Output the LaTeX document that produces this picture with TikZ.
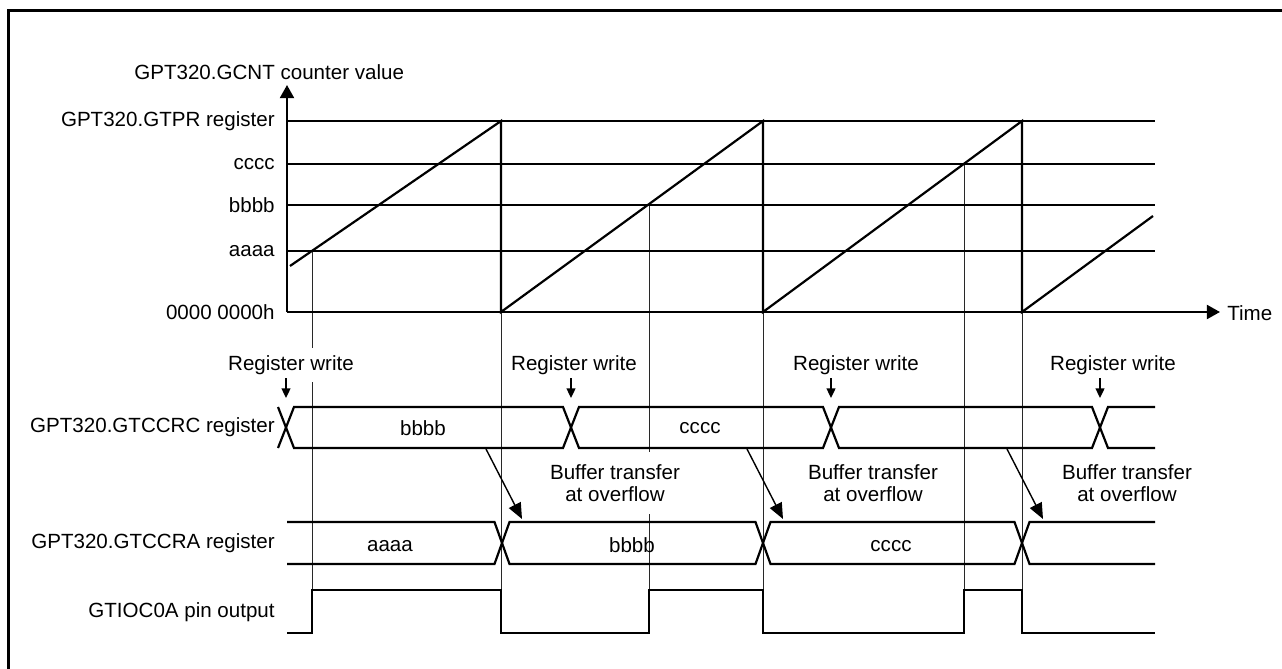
\documentclass[tikz,border=0pt]{standalone}
\usepackage{fontspec}
\setmainfont{Liberation Sans}
\usepackage{xcolor}
\definecolor{gline}{RGB}{40,40,40}
\usetikzlibrary{arrows.meta,positioning,calc}

\begin{document}
\begin{tikzpicture}[x=0.02cm,y=-0.02cm,font=\fontsize{11.7}{12.5}\selectfont,
  sig/.style={line width=1.25pt},
  guide/.style={line width=0.55pt,gline},
  lbl/.style={inner sep=0pt,anchor=east},
  wrlbl/.style={fill=white,inner xsep=3pt,inner ysep=4pt},
  btlbl/.style={fill=white,align=center,inner xsep=2pt,inner ysep=7pt},
  axisarrow/.style={sig,-{Triangle[length=7.5pt,width=8pt]}},
  wrarrow/.style={line width=1.1pt,-{Triangle[length=5.5pt,width=5pt]}},
  btarrow/.style={line width=0.8pt,-{Triangle[length=9pt,width=7.5pt]}}]
  \useasboundingbox (0,0) rectangle (1282,669);
  \draw[line width=1.7pt] (8.5,669) -- (8.5,10.5) -- (1282,10.5);
  \foreach \x/\y in {312/251,501/312,649/205,763/312,964/164,1022/312}
    \draw[guide] (\x,\y) -- (\x,590);
  \node[anchor=west,inner sep=0pt] (cntlbl) at (134,72) {GPT320.GCNT counter value};
  \foreach \y/\t/\n in {121/GPT320.GTPR register/gtpr,164/cccc/lvc,205/bbbb/lvb,251/aaaa/lva}{
    \node[lbl] (\n) at (275,\y) {\t};
    \draw[sig] (287,\y) -- (1155,\y);
  }
  \node[lbl] (zero) at (275,312) {0000 0000h};
  \node[anchor=west,inner sep=0pt] (timelbl) at (1227,313) {Time};
  \draw[axisarrow] (287,312) -- (287,85);
  \draw[axisarrow] (287,312) -- (1220,312);
  \draw[sig] (290,266) -- (501,121) -- (501,312) -- (763,121) -- (763,312) -- (1022,121) -- (1022,312) -- (1153,216);
  \node[lbl] (crclbl) at (275,427) {GPT320.GTCCRC register};
  \node[lbl] (cralbl) at (275,543) {GPT320.GTCCRA register};
  \node[lbl] (outlbl) at (275,612) {GTIOC0A pin output};
  \foreach \n/\x/\c in {1/291/286,2/574/571,3/856/831,4/1113/1100}{
    \node[wrlbl] (rw\n) at (\x,365) {Register write};
    \coordinate (wt\n) at (\c,398);
    \draw[wrarrow] ($(wt\n)+(0,-20)$) -- (wt\n);
  }
  \draw[sig] (278,448) -- (294,407) -- (563,407) -- (579,448) -- (823,448) -- (839,407) -- (1092,407) -- (1108,448) -- (1155,448);
  \draw[sig] (278,407) -- (294,448) -- (563,448) -- (579,407) -- (823,407) -- (839,448) -- (1092,448) -- (1108,407) -- (1155,407);
  \node (crcb) at (423,428) {bbbb};
  \node (crcc) at (700,428) {cccc};
  \draw[sig] (287,522) -- (494.5,522) -- (509.5,564) -- (755.5,564) -- (770.5,522) -- (1014.5,522) -- (1029.5,564) -- (1155,564);
  \draw[sig] (287,564) -- (494.5,564) -- (509.5,522) -- (755.5,522) -- (770.5,564) -- (1014.5,564) -- (1029.5,522) -- (1155,522);
  \node (craa) at (390,546) {aaaa};
  \node (crab) at (632,545) {bbbb};
  \node (crac) at (891,546) {cccc};
  \foreach \n/\x in {1/615,2/873,3/1127}
    \node[btlbl] (bt\n) at (\x,483) {Buffer transfer\\at overflow};
  \foreach \n/\x in {1/486,2/747,3/1007}{
    \coordinate (bs\n) at (\x,449);
    \coordinate (be\n) at (\x+36,519);
    \draw[btarrow] (bs\n) -- (be\n);
  }
  \draw[sig] (287,633) -- (312,633) -- (312,590) -- (501,590) -- (501,633) -- (649,633) -- (649,590) -- (763,590) -- (763,633) -- (964,633) -- (964,590) -- (1022,590) -- (1022,633) -- (1155,633);
\end{tikzpicture}
\end{document}
